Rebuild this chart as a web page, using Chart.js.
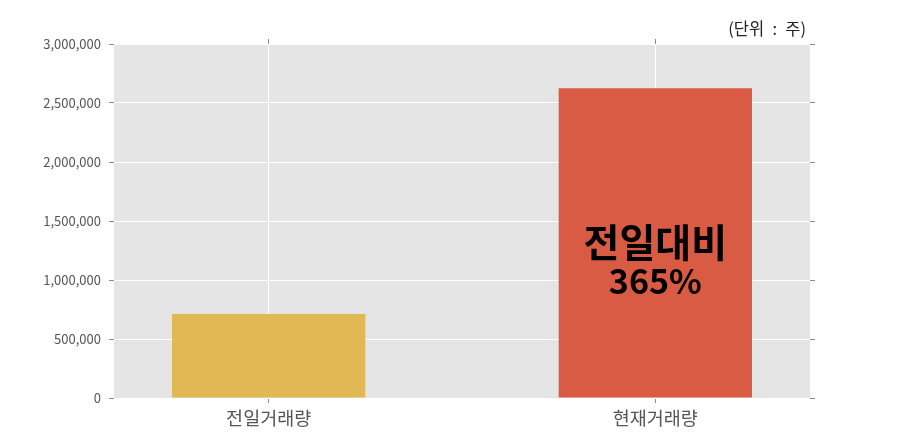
<!DOCTYPE html>
<html>
<head>
<meta charset="utf-8">
<script src="https://cdn.jsdelivr.net/npm/chart.js@4.4.1/dist/chart.umd.min.js"></script>
<style>
  html, body { margin: 0; padding: 0; background: #ffffff; }
  #wrap { width: 900px; height: 443px; }
</style>
</head>
<body>
<div id="wrap"><canvas id="c" width="900" height="443"></canvas></div>
<script>
const categories = ['전일거래량', '현재거래량'];
const volumes = [712000, 2625000];
const barColors = ['#E0B955', '#D95B43'];
const yMin = 0;
const yMax = 3000000;
const yStep = 500000;
const unitLabel = '(단위\u2002:\u2002주)';
const annotationLines = ['전일대비', '365%'];

const points = volumes.map((v, i) => ({ x: i, y: v }));
const KR = '"Noto Sans CJK KR", "Noto Sans", sans-serif';
const TICK = '#8a8a8a';

function catTicks(scale) {
  scale.ticks = categories.map((c, i) => ({ value: i }));
}

const bgPlugin = {
  id: 'bg',
  beforeDraw(chart) {
    const { ctx, chartArea: a } = chart;
    ctx.save();
    ctx.fillStyle = '#E5E5E5';
    ctx.fillRect(a.left, a.top, a.right - a.left, a.bottom - a.top);
    ctx.restore();
  },
  afterDraw(chart) {
    const { ctx, chartArea: a } = chart;
    const xs = chart.scales.x;
    const h = a.bottom - a.top;
    ctx.save();
    // unit label
    ctx.font = '16.5px ' + KR;
    ctx.fillStyle = '#222222';
    ctx.textAlign = 'right';
    ctx.textBaseline = 'alphabetic';
    ctx.fillText(unitLabel, a.right - 4, 35);
    // annotation
    const cx = xs.getPixelForValue(1);
    ctx.fillStyle = '#000000';
    ctx.textAlign = 'center';
    ctx.textBaseline = 'alphabetic';
    ctx.font = 'bold 39px ' + KR;
    ctx.fillText(annotationLines[0], cx, a.top + h * 0.6017);
    ctx.font = 'bold 34px ' + KR;
    ctx.fillText(annotationLines[1], cx, a.top + h * 0.7062);
    ctx.restore();
  }
};

new Chart(document.getElementById('c'), {
  type: 'bar',
  data: {
    datasets: [{
      data: points,
      backgroundColor: barColors,
      borderWidth: 0,
      barPercentage: 0.5,
      categoryPercentage: 1.0
    }]
  },
  options: {
    responsive: false,
    devicePixelRatio: 1,
    animation: false,
    layout: { padding: { left: 0, right: 85, top: 39, bottom: 0 } },
    plugins: { legend: { display: false }, tooltip: { enabled: false } },
    scales: {
      x: {
        type: 'linear', position: 'bottom', min: -0.4, max: 1.4,
        offset: false,
        afterBuildTicks: catTicks,
        afterFit(s) { s.height = 45; },
        border: { display: false },
        grid: { offset: false, color: '#ffffff', lineWidth: 1, tickColor: TICK, tickLength: 5 },
        ticks: {
          padding: 4,
          color: '#555555',
          font: { family: KR, size: 18.5 },
          callback: (v) => categories[v] !== undefined ? categories[v] : ''
        }
      },
      x2: {
        type: 'linear', position: 'top', min: -0.4, max: 1.4,
        offset: false,
        afterBuildTicks: catTicks,
        afterFit(s) { s.height = 5; },
        border: { display: false },
        grid: { offset: false, drawOnChartArea: false, tickColor: TICK, tickLength: 5 },
        ticks: { display: false }
      },
      y: {
        position: 'left', min: yMin, max: yMax,
        afterFit(s) { s.width = 114; },
        border: { display: false },
        grid: { color: '#ffffff', lineWidth: 1, tickColor: TICK, tickLength: 5 },
        ticks: {
          stepSize: yStep,
          padding: 8,
          color: '#555555',
          font: { family: KR, size: 13 },
          callback: (v) => Number(v).toLocaleString('en-US')
        }
      },
      y2: {
        position: 'right', min: yMin, max: yMax,
        afterFit(s) { s.width = 5; },
        border: { display: false },
        grid: { drawOnChartArea: false, tickColor: TICK, tickLength: 5 },
        ticks: { display: false, stepSize: yStep }
      }
    }
  },
  plugins: [bgPlugin]
});
</script>
</body>
</html>
